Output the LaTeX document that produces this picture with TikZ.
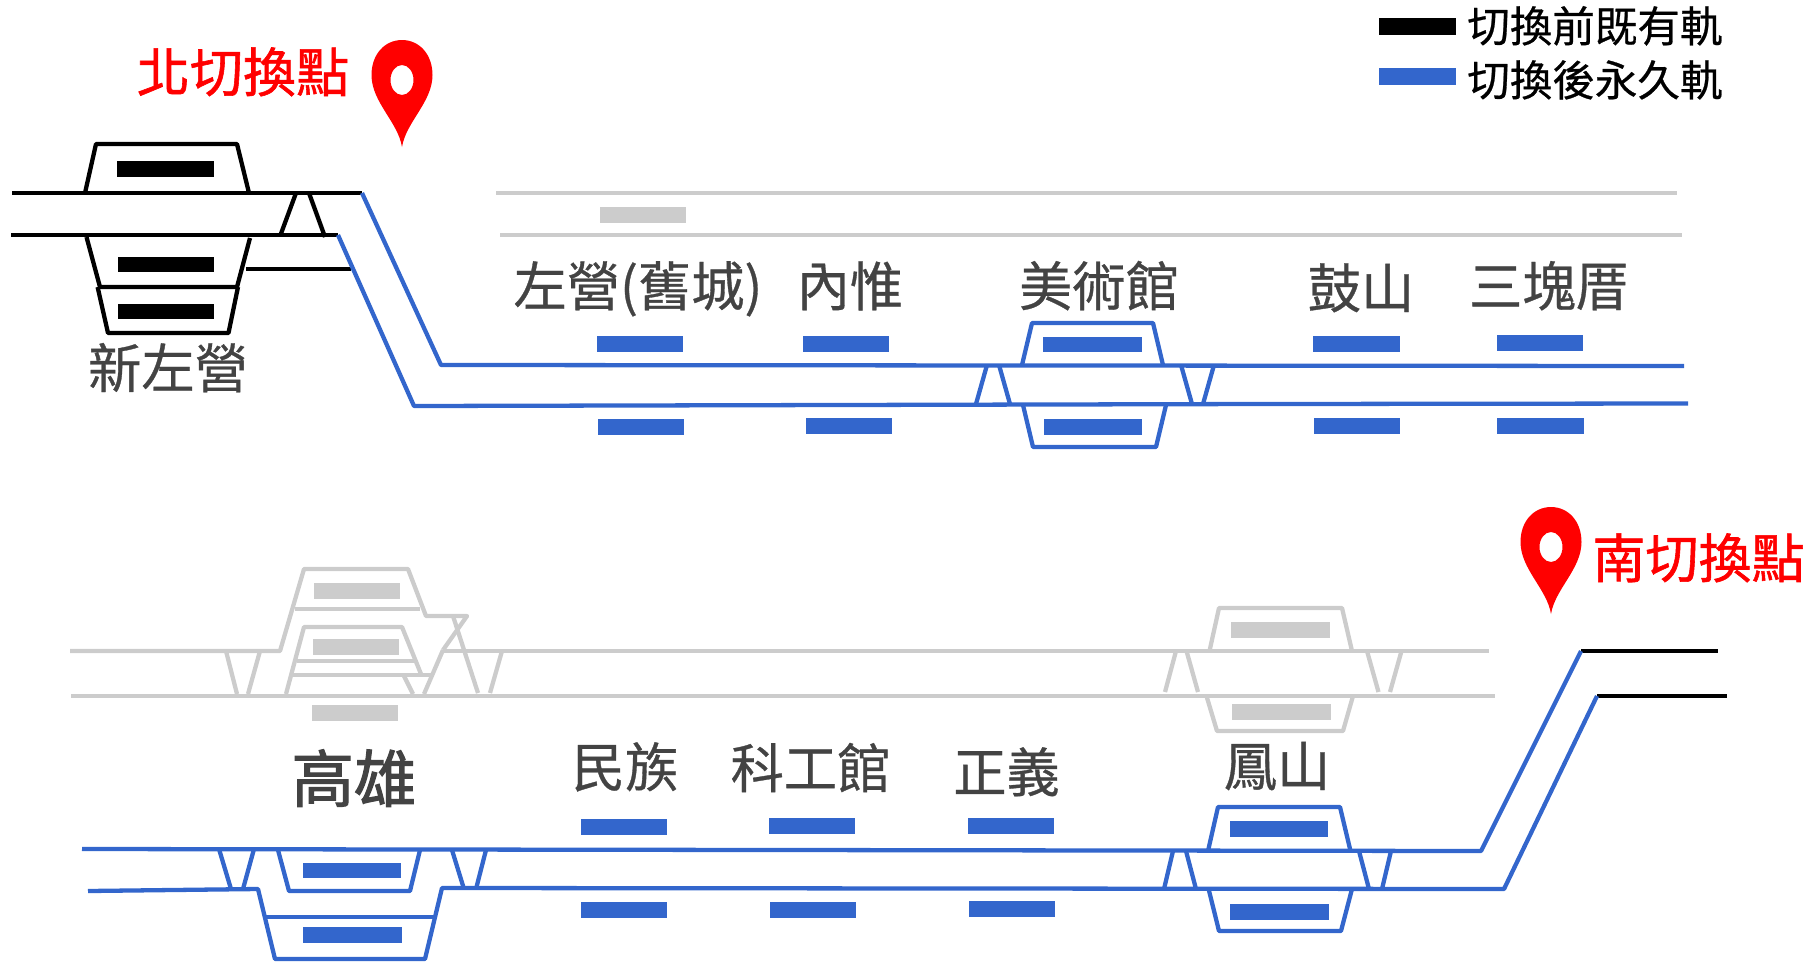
\documentclass[tikz,border=0pt]{standalone}
\usepackage{fontspec}
\newfontfamily\cjkfont[FakeBold=0.6]{Noto Sans CJK TC}
\newfontfamily\cjkmid[FakeBold=1.1]{Noto Sans CJK TC}
\newfontfamily\cjkheavy[FakeBold=1.8]{Noto Sans CJK TC}
\definecolor{newblue}{HTML}{3366CC}
\definecolor{oldgrey}{HTML}{CCCCCC}
\definecolor{labgrey}{HTML}{434343}
\tikzset{
	oldline/.style = {draw = black, line width = 4.3*0.5669pt, line join = round},
	newline/.style = {draw = newblue, line width = 4.3*0.5669pt, line join = round},
	greyline/.style = {draw = oldgrey, line width = 4.3*0.5669pt, line join = round},
	oldbar/.style = {fill = black},
	newbar/.style = {fill = newblue},
	greybar/.style = {fill = oldgrey},
	stalab/.style = {anchor = base, inner sep = 0pt, text = labgrey, font = \cjkfont\fontsize{30.3}{30.3}\selectfont},
	bigstalab/.style = {stalab, font = \cjkheavy\fontsize{35.5}{35.5}\selectfont},
	pointlab/.style = {anchor = base, inner sep = 0pt, text = red, font = \cjkmid\fontsize{30.2}{30.2}\selectfont},
	keylab/.style = {anchor = base west, inner sep = 0pt, text = black, font = \cjkfont\fontsize{24.2}{24.2}\selectfont},
	mappin/.pic = {
		\fill[red, even odd rule] (0,67) .. controls (-4,42) and (-30.5,22) .. (-30.5,-5)
			.. controls (-30.5,-26) and (-17,-40) .. (0,-40)
			.. controls (17,-40) and (30.5,-26) .. (30.5,-5)
			.. controls (30.5,22) and (4,42) .. (0,67) -- cycle
			(0,0) ellipse (11.5 and 15);
	}
}
\begin{document}
\begin{tikzpicture}[x = 0.02cm, y = -0.02cm]
	\useasboundingbox (0,0) rectangle (1816,961);

	\coordinate[](nup) at (362,193);
	\coordinate[](nlow) at (338,235);
	\coordinate[](sup) at (1581,651);
	\coordinate[](slow) at (1597,696);

	% legend
	\fill[oldbar] (1379,18) rectangle (1456,35);
	\fill[newbar] (1379,68) rectangle (1456,85);
	\node[keylab](keyold) at (1467,42) {切換前既有軌};
	\node[keylab](keynew) at (1467,96) {切換後永久軌};

	% switch points
	\node[pointlab](northpoint) at (243,92) {北切換點};
	\node[pointlab](southpoint) at (1698.5,578) {南切換點};
	\pic at (402,80) {mappin};
	\pic at (1551,547) {mappin};

	% existing line at the north end
	\draw[oldline] (12,193) -- (nup);
	\draw[oldline] (11,235) -- (nlow);
	\draw[oldline] (85,193) -- (96,144) -- (237,144) -- (249,193);
	\draw[oldline] (86.5,237) -- (100,287) -- (237,287) -- (250,238);
	\draw[oldline] (97.6,287) -- (108,333) -- (228.5,333) -- (238,287);
	\draw[oldline] (280.5,235) -- (296,193);
	\draw[oldline] (309,193) -- (325,237);
	\draw[oldline] (246,269) -- (350.5,269);
	\fill[oldbar] (117,161) rectangle (213.5,177);
	\fill[oldbar] (117.5,257) rectangle (214,272);
	\fill[oldbar] (117.5,304) rectangle (214,319);

	% existing line at the south end
	\draw[oldline] (sup) -- (1718,651);
	\draw[oldline] (slow) -- (1727,696);

	% old track, upper half
	\draw[greyline] (496,193) -- (1677,193);
	\draw[greyline] (500,235) -- (1682,235);
	\fill[greybar] (600,207) rectangle (686,223);

	% old track, lower half
	\draw[greyline] (70,651) -- (280,651) -- (304,569) -- (408,569) -- (426,616) -- (467,616) -- (443,650);
	\draw[greyline] (443,651) -- (1489,651);
	\draw[greyline] (71,696) -- (1495,696);
	\draw[greyline] (226,651) -- (237,694);
	\draw[greyline] (260,651) -- (248,694);
	\draw[greyline] (453,616) -- (478,693);
	\draw[greyline] (502,651) -- (490,693);
	\draw[greyline] (295,609) -- (420,609);
	\draw[greyline] (286,694) -- (304,627) -- (402,627) -- (421,674);
	\draw[greyline] (297,661) -- (415,661);
	\draw[greyline] (292,675) -- (432,675);
	\draw[greyline] (403,674) -- (413,694);
	\draw[greyline] (443,650) -- (424,694);
	\fill[greybar] (314,583) rectangle (400,599);
	\fill[greybar] (313,639) rectangle (399,655);
	\fill[greybar] (312,705) rectangle (398,721);

	\draw[greyline] (1209.5,651) -- (1219,608) -- (1342,608) -- (1352,651);
	\draw[greyline] (1206.5,696) -- (1217,731) -- (1343,731) -- (1353,696);
	\draw[greyline] (1176,651) -- (1165,692);
	\draw[greyline] (1186.5,651) -- (1198,692);
	\draw[greyline] (1367,651) -- (1378.5,692);
	\draw[greyline] (1401.5,651) -- (1390,692);
	\fill[greybar] (1231,622) rectangle (1330,638);
	\fill[greybar] (1232,704) rectangle (1330.5,720);

	% permanent track, upper half
	\draw[newline] (nup) -- (441,365) -- (1684,366);
	\draw[newline] (nlow) -- (414,406) -- (1260,404) -- (1688,403.5);
	\draw[newline] (1022,365) -- (1032,323) -- (1153,323) -- (1163,365);
	\draw[newline] (1023,405) -- (1033,447) -- (1156,447) -- (1166,405);
	\draw[newline] (976,404) -- (987,365);
	\draw[newline] (999,365) -- (1010,404);
	\draw[newline] (1181,365) -- (1192,404);
	\draw[newline] (1203,404) -- (1214,365);
	\fill[newbar] (597,336) rectangle (683,352);
	\fill[newbar] (598,419) rectangle (684,435);
	\fill[newbar] (803,336) rectangle (889,352);
	\fill[newbar] (806,418) rectangle (892,434);
	\fill[newbar] (1043,337) rectangle (1142,352);
	\fill[newbar] (1044,419) rectangle (1142,435);
	\fill[newbar] (1313,336) rectangle (1400,352);
	\fill[newbar] (1314,418) rectangle (1400,434);
	\fill[newbar] (1497,335) rectangle (1583,351);
	\fill[newbar] (1497,418) rectangle (1584,434);

	% permanent track, lower half
	\draw[newline] (82,849) -- (1481,851) -- (sup);
	\draw[newline] (88,891) -- (258,889) -- (275,959) -- (425,959) -- (442,888) -- (1504,889) -- (slow);
	\draw[newline] (278,850) -- (289,891) -- (410,891) -- (420,850);
	\draw[newline] (266,917) -- (435,917);
	\draw[newline] (219,849) -- (231,889);
	\draw[newline] (254,849) -- (243,889);
	\draw[newline] (452,850) -- (464,889);
	\draw[newline] (486,850) -- (476,889);
	\draw[newline] (1208,851) -- (1218,807) -- (1340,807) -- (1350.5,851);
	\draw[newline] (1208.6,889) -- (1219,931) -- (1341,931) -- (1352,889);
	\draw[newline] (1173,851) -- (1164,889);
	\draw[newline] (1186,851) -- (1196,889);
	\draw[newline] (1359,851) -- (1369,889);
	\draw[newline] (1391,851) -- (1382,889);
	\fill[newbar] (303,863) rectangle (401,878);
	\fill[newbar] (303,927) rectangle (402,943);
	\fill[newbar] (581,819) rectangle (667,835);
	\fill[newbar] (581,902) rectangle (667,918);
	\fill[newbar] (769,818) rectangle (855,834);
	\fill[newbar] (770,902) rectangle (856,918);
	\fill[newbar] (968,818) rectangle (1054,834);
	\fill[newbar] (969,901) rectangle (1055,917);
	\fill[newbar] (1230,821) rectangle (1328,837);
	\fill[newbar] (1230,904) rectangle (1329,920);

	% station names
	\node[stalab](xinzuoying) at (168,388) {新左營};
	\node[stalab](zuoying) at (638,306) {左營(舊城)};
	\node[stalab](neiwei) at (850,306) {內惟};
	\node[stalab](museum) at (1099,306) {美術館};
	\node[stalab](gushan) at (1361,308) {鼓山};
	\node[stalab](sankuaicuo) at (1549,306) {三塊厝};
	\node[bigstalab](kaohsiung) at (354,802) {高雄};
	\node[stalab](minzu) at (625,787) {民族};
	\node[stalab](science) at (810.5,788) {科工館};
	\node[stalab](zhengyi) at (1006.5,792) {正義};
	\node[stalab](fengshan) at (1277,786) {鳳山};
\end{tikzpicture}
\end{document}
